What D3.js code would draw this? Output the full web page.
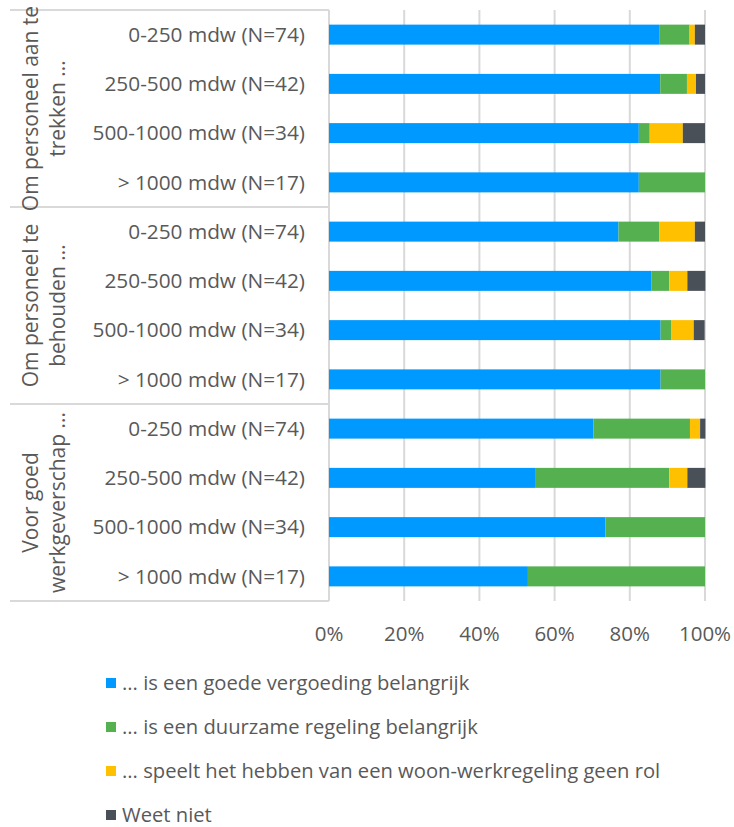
<!DOCTYPE html>
<html>
<head>
<meta charset="utf-8">
<script src="https://cdn.jsdelivr.net/npm/d3@7"></script>
<style>
  body { margin: 0; background: #fff; }
  text { font-family: "Open Sans", "Noto Sans", sans-serif; fill: #595959; }
</style>
</head>
<body>
<div id="chart"></div>
<script>
var w = 734;
var h = 827;

// group labels (outer level of the category axis), each two lines
var groups = [
  ["Om personeel aan te", "trekken ..."],
  ["Om personeel te", "behouden ..."],
  ["Voor goed", "werkgeverschap ..."]
];
// inner category labels, same four in every group
var sizes = ["0-250 mdw (N=74)", "250-500 mdw (N=42)", "500-1000 mdw (N=34)", "> 1000 mdw (N=17)"];

// percentages per row, top to bottom
var vergoeding = [87.8, 88.1, 82.4, 82.4, 77.0, 85.7, 88.2, 88.2, 70.3, 54.8, 73.5, 52.9];
var duurzaam   = [8.1, 7.1, 2.9, 17.6, 10.8, 4.8, 2.9, 11.8, 25.7, 35.7, 26.5, 47.1];
var geenRol    = [1.4, 2.4, 8.8, 0, 9.5, 4.8, 5.9, 0, 2.7, 4.8, 0, 0];
var weetNiet   = [2.7, 2.4, 5.9, 0, 2.7, 4.8, 2.9, 0, 1.4, 4.8, 0, 0];

var seriesNames = [
  "... is een goede vergoeding belangrijk",
  "... is een duurzame regeling belangrijk",
  "... speelt het hebben van een woon-werkregeling geen rol",
  "Weet niet"
];
var colors = ["#0099ff", "#55b050", "#ffc000", "#4a5058"];
var xTicks = [0, 20, 40, 60, 80, 100];

var rows = [];
for (var g = 0; g < groups.length; g++) {
  for (var s = 0; s < sizes.length; s++) {
    var i = g * sizes.length + s;
    rows.push({
      id: i,
      group: g,
      label: sizes[s],
      values: [vergoeding[i], duurzaam[i], geenRol[i], weetNiet[i]]
    });
  }
}

var plotLeft = 329, plotRight = 705, plotTop = 10, plotBottom = 601;

var x = d3.scaleLinear().domain([0, 100]).range([plotLeft, plotRight]);
var y = d3.scaleBand()
  .domain(rows.map(function(d) { return d.id; }))
  .range([plotTop, plotBottom])
  .paddingInner(0.594)
  .paddingOuter(0.297);

var svg = d3.select("#chart").append("svg")
  .attr("width", w)
  .attr("height", h);

// gridlines
svg.selectAll(".grid")
  .data(xTicks)
  .enter()
  .append("line")
  .attr("x1", function(d) { return x(d); })
  .attr("x2", function(d) { return x(d); })
  .attr("y1", plotTop)
  .attr("y2", plotBottom)
  .attr("stroke", "#d9d9d9")
  .attr("stroke-width", 2);

// group separators on the category axis
function rowTop(i) { return y(i) - y.step() * 0.297; }
var groupEdges = [0, 4, 8, 12];
svg.selectAll(".sep")
  .data(groupEdges)
  .enter()
  .append("line")
  .attr("x1", 10)
  .attr("x2", plotLeft)
  .attr("y1", function(d) { return d < 12 ? rowTop(d) : plotBottom; })
  .attr("y2", function(d) { return d < 12 ? rowTop(d) : plotBottom; })
  .attr("stroke", "#d9d9d9")
  .attr("stroke-width", 2);

// stacked bars
var rowG = svg.selectAll(".row")
  .data(rows)
  .enter()
  .append("g")
  .attr("class", "row");

rowG.selectAll("rect")
  .data(function(d) {
    var acc = 0;
    return d.values.map(function(v, k) {
      var seg = { id: d.id, k: k, x0: acc, x1: acc + v };
      acc += v;
      return seg;
    });
  })
  .enter()
  .append("rect")
  .attr("x", function(d) { return x(d.x0); })
  .attr("width", function(d) { return Math.max(0, x(d.x1) - x(d.x0)); })
  .attr("y", function(d) { return y(d.id); })
  .attr("height", y.bandwidth())
  .attr("fill", function(d) { return colors[d.k]; });

// inner category labels
rowG.append("text")
  .attr("x", 305)
  .attr("y", function(d) { return y(d.id) + y.bandwidth() / 2; })
  .attr("dy", "0.35em")
  .attr("text-anchor", "end")
  .style("font-size", "20.8px")
  .text(function(d) { return d.label; });

// outer group labels, rotated
groups.forEach(function(lines, g) {
  var cy = rowTop(g * 4) + y.step() * 2;
  var t = svg.append("text")
    .attr("transform", "translate(38," + cy + ") rotate(-90)")
    .attr("text-anchor", "middle")
    .style("font-size", "21px");
  lines.forEach(function(line, j) {
    t.append("tspan")
      .attr("x", 0)
      .attr("y", j * 26.5)
      .text(line);
  });
});

// x axis tick labels
svg.selectAll(".xlabel")
  .data(xTicks)
  .enter()
  .append("text")
  .attr("x", function(d) { return x(d); })
  .attr("y", 634)
  .attr("dy", "0.35em")
  .attr("text-anchor", "middle")
  .style("font-size", "20.5px")
  .text(function(d) { return d + "%"; });

// legend
var legend = svg.selectAll(".legend")
  .data(seriesNames)
  .enter()
  .append("g")
  .attr("transform", function(d, k) { return "translate(106," + (683 + k * 44) + ")"; });

legend.append("rect")
  .attr("x", 0)
  .attr("y", -5)
  .attr("width", 10)
  .attr("height", 10)
  .attr("fill", function(d, k) { return colors[k]; });

legend.append("text")
  .attr("x", 16)
  .attr("y", 0)
  .attr("dy", "0.35em")
  .style("font-size", "20.2px")
  .text(function(d) { return d; });
</script>
</body>
</html>
